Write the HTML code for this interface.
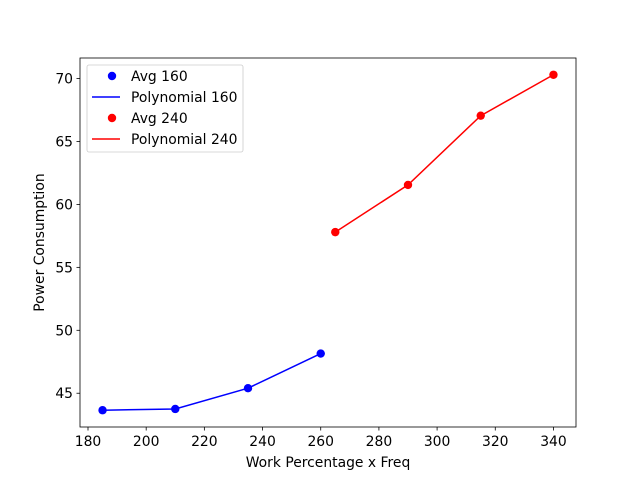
<!DOCTYPE html>
<html><head><meta charset="utf-8"><style>
body{margin:0;background:#fff;}
svg text{font-family:"DejaVu Sans","Liberation Sans",sans-serif;}
</style></head><body>
<svg id="c" width="640" height="480" xmlns="http://www.w3.org/2000/svg"></svg>
<script>
const xs160 = [185, 210, 235, 260];
const ys160 = [43.65, 43.75, 45.4, 48.15];
const xs240 = [265, 290, 315, 340];
const ys240 = [57.8, 61.55, 67.05, 70.3];
const xTicks = [180, 200, 220, 240, 260, 280, 300, 320, 340];
const yTicks = [45, 50, 55, 60, 65, 70];

const L=80,R=576,T=58,B=427,FS=13.9;
const allX=xs160.concat(xs240), allY=ys160.concat(ys240);
let x0=Math.min(...allX),x1=Math.max(...allX),y0=Math.min(...allY),y1=Math.max(...allY);
const dx=(x1-x0)*0.05, dy=(y1-y0)*0.05; x0-=dx;x1+=dx;y0-=dy;y1+=dy;
const sx=v=>L+(v-x0)/(x1-x0)*(R-L);
const sy=v=>B-(v-y0)/(y1-y0)*(B-T);
const svg=document.getElementById('c');
const NS='http://www.w3.org/2000/svg';
function mk(tag,attrs,parent){const e=document.createElementNS(NS,tag);for(const k in attrs)e.setAttribute(k,attrs[k]);(parent||svg).appendChild(e);return e;}

const frame=mk('rect',{x:L,y:T,width:R-L,height:B-T,fill:'none',stroke:'#000','stroke-width':0.8});



xTicks.forEach(t=>{
  const g=mk('g',{});
  
  
  mk('line',{x1:sx(t),x2:sx(t),y1:B,y2:B+3.5,stroke:'#000','stroke-width':0.8},g);
  const tx=mk('text',{x:sx(t),y:B+19,'text-anchor':'middle','font-size':FS},g);tx.textContent=t;
});
yTicks.forEach(t=>{
  const g=mk('g',{});
  
  
  mk('line',{x1:L-3.5,x2:L,y1:sy(t),y2:sy(t),stroke:'#000','stroke-width':0.8},g);
  const tx=mk('text',{x:L-7,y:sy(t)+5,'text-anchor':'end','font-size':FS},g);tx.textContent=t;
});
const xl=mk('text',{x:(L+R)/2,y:467,'text-anchor':'middle','font-size':FS});xl.textContent='Work Percentage x Freq';


const yl=mk('text',{x:0,y:0,'text-anchor':'middle','font-size':FS,transform:`translate(44,${(T+B)/2}) rotate(-90)`});yl.textContent='Power Consumption';



function series(xs,ys,color,name){
  const pl=mk('polyline',{points:xs.map((v,i)=>sx(v)+','+sy(ys[i])).join(' '),fill:'none',stroke:color,'stroke-width':1.5});
  
  
  xs.forEach((v,i)=>{
    const c=mk('circle',{cx:sx(v),cy:sy(ys[i]),r:4.2,fill:color});
    
    
  });
}
series(xs160,ys160,'#0000ff','160');
series(xs240,ys240,'#ff0000','240');

const lg=mk('g',{});


mk('rect',{x:87,y:65,width:156,height:87,rx:2,fill:'#fff',stroke:'#ccc','stroke-width':0.8},lg);
const items=[['Avg 160','#0000ff','pt'],['Polynomial 160','#0000ff','ln'],['Avg 240','#ff0000','pt'],['Polynomial 240','#ff0000','ln']];
items.forEach((it,i)=>{
  const y=76+i*21;
  const g=mk('g',{},lg);
  
  
  if(it[2]==='pt') mk('circle',{cx:112,cy:y,r:4.2,fill:it[1]},g);
  else mk('line',{x1:92,x2:120,y1:y,y2:y,stroke:it[1],'stroke-width':1.5},g);
  const t=mk('text',{x:131,y:y+5,'font-size':FS},g);t.textContent=it[0];
});
</script>
</body></html>
